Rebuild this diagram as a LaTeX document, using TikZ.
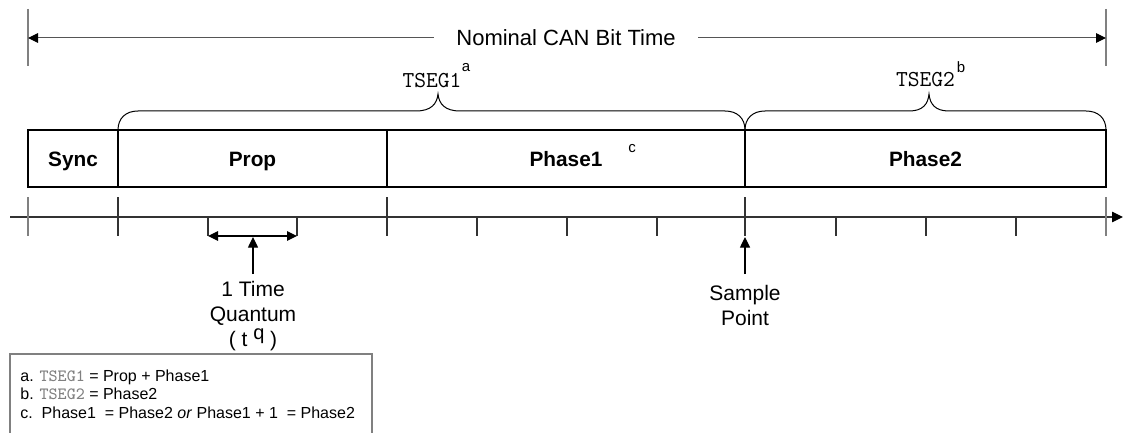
\documentclass[tikz,border=0pt]{standalone}
\usepackage{fontspec}
\setmainfont{Liberation Sans}
\usetikzlibrary{arrows.meta,calc}
\definecolor{lgray}{HTML}{555555}
\definecolor{dgray}{HTML}{333333}
\definecolor{mgray}{HTML}{808080}
\begin{document}
\begin{tikzpicture}[x=0.5pt,y=-0.5pt,
  seg/.style={draw=black, line width=1pt, minimum height=28.5pt, inner sep=0pt,
              text height=7.5pt, text depth=0pt,
              font=\bfseries\fontsize{10.4}{12}\selectfont},
  txt/.style={font=\fontsize{10.5}{12.6}\selectfont, align=center},
  mono/.style={font=\ttfamily\fontsize{11.4}{13}\selectfont, inner sep=0pt},
  supl/.style={font=\fontsize{7.5}{9}\selectfont, inner sep=0pt},
  fn/.style={font=\fontsize{8}{9.25}\selectfont, inner sep=0pt},
  tip/.style={Triangle[length=5pt,width=4.8pt,black]},
  dimline/.style={draw=lgray, line width=0.5pt, -{Triangle[length=5pt,width=4.8pt,black]}},
  endline/.style={draw=mgray, line width=0.8pt},
  brace/.style={draw=black, line width=0.5pt},
  axisline/.style={draw=dgray, line width=0.6pt},
  tick/.style={draw=dgray, line width=0.6pt},
  gtick/.style={draw=mgray, line width=0.9pt},
  ptr/.style={draw=black, line width=0.6pt, -{Triangle[length=5.3pt,width=5pt]}},
  fnbox/.style={draw=mgray, line width=0.8pt}
]
\useasboundingbox (0,0) rectangle (1124,433);

% nominal bit time dimension
\draw[endline] (28,9) -- (28,66);
\draw[endline] (1106,9) -- (1106,66);
\node[font=\fontsize{11}{13}\selectfont, inner xsep=11pt, inner ysep=0pt] (title) at (566,38) {Nominal CAN Bit Time};
\coordinate (tl) at (28,38);
\coordinate (tr) at (1106,38);
\draw[dimline] (title) -- (tl);
\draw[dimline] (title) -- (tr);

% segments
\node[seg, minimum width=45pt] (sync) at (73,158.5) {Sync};
\node[seg, minimum width=134.5pt] (prop) at (252.5,158.5) {Prop};
\node[seg, minimum width=179pt] (ph1) at (566,158.5) {Phase1};
\node[seg, minimum width=180.5pt] (ph2) at (925.5,158.5) {Phase2};
\node[supl, anchor=base] (supc) at (632,153) {c};

% braces
\draw[brace] (118,130) .. controls (118,118) and (126,111) .. (138,111)
  -- (416,111) .. controls (431,111) and (437,104) .. (438,94)
  .. controls (439,104) and (445,111) .. (460,111)
  -- (725,111) .. controls (737,111) and (745,118) .. (745,130);
\draw[brace] (745,130) .. controls (745,118) and (753,111) .. (765,111)
  -- (909,111) .. controls (923,111) and (928,104) .. (929,94)
  .. controls (930,104) and (935,111) .. (949,111)
  -- (1086,111) .. controls (1098,111) and (1106,118) .. (1106,130);
\node[mono, anchor=base] (tsega) at (432,88) {TSEG1};
\node[supl, anchor=base] (supa) at (466,72) {a};
\node[mono, anchor=base] (tsegb) at (925.5,87) {TSEG2};
\node[supl, anchor=base] (supb) at (961,72.5) {b};

% time axis
\coordinate (axs) at (10,217);
\coordinate (axe) at (1123,217);
\draw[axisline, -{Triangle[length=5.5pt,width=5.2pt,black]}] (axs) -- (axe);
\foreach \x in {118,387,745} \draw[tick] (\x,197) -- (\x,236);
\foreach \x in {28,1106} \draw[gtick] (\x,197) -- (\x,236);
\foreach \x in {477,567,657,836,926,1016} \draw[tick] (\x,217) -- (\x,236);

% one time quantum
\draw[tick] (208,217) -- (208,236);
\draw[tick] (297,217) -- (297,236);
\coordinate (qa) at (208,236);
\coordinate (qb) at (297,236);
\draw[draw=black, line width=0.6pt, {Triangle[length=5pt,width=4.8pt]}-{Triangle[length=5pt,width=4.8pt]}] (qa) -- (qb);
\node[txt, anchor=north, inner xsep=0pt, inner ysep=3.3pt] (tq) at (253,274)
  {1 Time\\Quantum\\( t\ \raisebox{3.5pt}{\fontsize{10}{10}\selectfont q} )};
\coordinate (qm) at (253,237);
\draw[ptr] (tq) -- (qm);

% sample point
\node[txt, anchor=north, inner xsep=0pt, inner ysep=5.5pt] (sp) at (745,274) {Sample\\Point};
\coordinate (spm) at (745,237);
\draw[ptr] (sp) -- (spm);

% footnotes
\draw[fnbox] (10,434) -- (10,354) -- (372,354) -- (372,434);
\node[fn, anchor=base west] (fna) at (20,381)
  {a. {\ttfamily\fontsize{8.6}{9.25}\selectfont\color{mgray}TSEG1} = Prop + Phase1};
\node[fn, anchor=base west] (fnb) at (20,399.5)
  {b. {\ttfamily\fontsize{8.6}{9.25}\selectfont\color{mgray}TSEG2} = Phase2};
\node[fn, anchor=base west] (fnc) at (20,418)
  {c.\ \ Phase1\ \ = Phase2 \textit{or} Phase1 + 1\ \ = Phase2};
\end{tikzpicture}
\end{document}
